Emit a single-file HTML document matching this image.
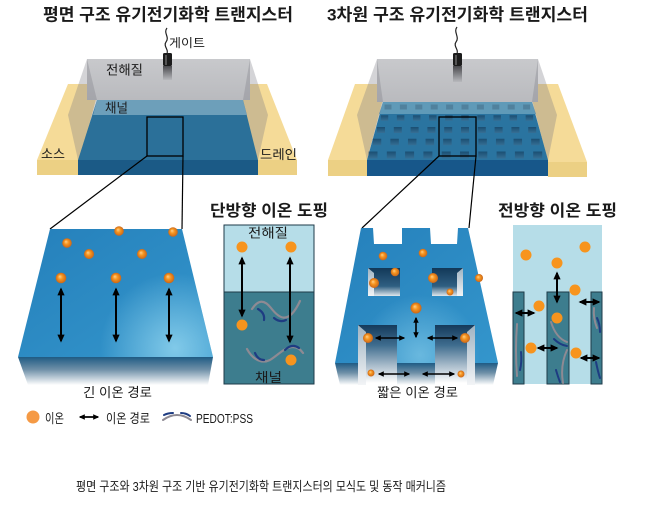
<!DOCTYPE html>
<html><head><meta charset="utf-8">
<style>
html,body{margin:0;padding:0;background:#fff;}
svg{display:block;}
text{font-family:"Liberation Sans","Noto Sans CJK KR",sans-serif;fill:#1a1a1a;}
.b{font-weight:bold;}
</style></head><body>
<svg width="650" height="510" viewBox="0 0 650 510" xmlns="http://www.w3.org/2000/svg">
<defs>
 <radialGradient id="ion" cx="0.5" cy="0.5" r="0.5" fx="0.38" fy="0.35">
  <stop offset="0" stop-color="#ffd08a"/>
  <stop offset="0.45" stop-color="#f7961f"/>
  <stop offset="1" stop-color="#c9661a"/>
 </radialGradient>
 <linearGradient id="top1" x1="0" y1="0" x2="1" y2="1">
  <stop offset="0" stop-color="#2580bb"/>
  <stop offset="1" stop-color="#3496cc"/>
 </linearGradient>
 <radialGradient id="hl1" cx="175" cy="348" r="75" gradientUnits="userSpaceOnUse">
  <stop offset="0" stop-color="#8fd3ee" stop-opacity="0.85"/>
  <stop offset="1" stop-color="#8fd3ee" stop-opacity="0"/>
 </radialGradient>
 <radialGradient id="hl2" cx="420" cy="355" r="60" gradientUnits="userSpaceOnUse">
  <stop offset="0" stop-color="#8fd3ee" stop-opacity="0.6"/>
  <stop offset="1" stop-color="#8fd3ee" stop-opacity="0"/>
 </radialGradient>
 <linearGradient id="front" x1="0" y1="0" x2="0" y2="1">
  <stop offset="0" stop-color="#1f5b84"/>
  <stop offset="0.45" stop-color="#6f90a8"/>
  <stop offset="1" stop-color="#ffffff"/>
 </linearGradient>
 <linearGradient id="wall" x1="0" y1="0" x2="0" y2="1">
  <stop offset="0" stop-color="#153a5b"/>
  <stop offset="0.35" stop-color="#3f6d8f"/>
  <stop offset="0.7" stop-color="#a9bccb"/>
  <stop offset="1" stop-color="#ffffff"/>
 </linearGradient>
 <linearGradient id="hole" x1="0" y1="0" x2="0" y2="1">
  <stop offset="0" stop-color="#123858"/>
  <stop offset="0.65" stop-color="#2f5f82"/>
  <stop offset="1" stop-color="#dfe7ec"/>
 </linearGradient>
 <linearGradient id="side" x1="0" y1="0" x2="0" y2="1">
  <stop offset="0" stop-color="#9fb3c2"/>
  <stop offset="1" stop-color="#f2f4f6"/>
 </linearGradient>
 <linearGradient id="back" x1="0" y1="0" x2="0" y2="1">
  <stop offset="0" stop-color="#c8c9cc"/>
  <stop offset="1" stop-color="#b9babe"/>
 </linearGradient>
 <linearGradient id="refl" x1="0" y1="0" x2="0" y2="1">
  <stop offset="0" stop-color="#4a4a4e"/>
  <stop offset="1" stop-color="#b8b9bd"/>
 </linearGradient>
 <linearGradient id="hg" x1="0" y1="0" x2="0" y2="1">
  <stop offset="0" stop-color="#143f60"/>
  <stop offset="1" stop-color="#3a6d90"/>
 </linearGradient>
 <marker id="a1" viewBox="0 0 10 10" refX="8" refY="5" markerWidth="8" markerHeight="8" markerUnits="userSpaceOnUse" orient="auto-start-reverse"><path d="M0,0.5 L10,5 L0,9.5z" fill="#000"/></marker>
 <marker id="a2" viewBox="0 0 10 10" refX="8" refY="5" markerWidth="6" markerHeight="6" markerUnits="userSpaceOnUse" orient="auto-start-reverse"><path d="M0,0.5 L10,5 L0,9.5z" fill="#000"/></marker>
</defs>

<!-- ===== Titles ===== -->
<text class="b" x="43" y="20.5" font-size="17" textLength="250" lengthAdjust="spacingAndGlyphs">평면 구조 유기전기화학 트랜지스터</text>
<text class="b" x="327" y="20.5" font-size="17" textLength="261" lengthAdjust="spacingAndGlyphs">3차원 구조 유기전기화학 트랜지스터</text>

<!-- ===== Left device ===== -->
<polygon points="68,84 100,84 80,160 37,160" fill="#f5db98"/>
<rect x="37" y="160" width="41" height="15" fill="#ecd084"/>
<polygon points="238,84 267,84 297,160 256,160" fill="#f5db98"/>
<rect x="258" y="160" width="39" height="15" fill="#ecd084"/>
<polygon points="97,100 243,100 258,160 78,160" fill="#2b7099"/>
<polygon points="97,100 243,100 247,115 93,115" fill="#6d9fba"/>
<rect x="78" y="160" width="180" height="15" fill="#1b5a86"/>
<rect x="87" y="59" width="163" height="41" fill="url(#back)"/>
<polygon points="87,59 97,100 78,160 68,115" fill="#787a82" fill-opacity="0.32"/>
<polygon points="250,59 268,115 258,160 243,100" fill="#787a82" fill-opacity="0.32"/>
<!-- gate -->
<path d="M167,28 C163,33 170,37 166,42 C163,46 169,50 167,53" stroke="#222" stroke-width="1.2" fill="none"/>
<rect x="163" y="66" width="9" height="14" fill="url(#refl)"/>
<rect x="163" y="53" width="9" height="13" rx="1.5" fill="#1c1c1c"/>
<rect x="165" y="55" width="2" height="10" fill="#555"/>
<!-- zoom box -->
<rect x="147" y="117" width="36" height="39" fill="none" stroke="#000" stroke-width="1.3"/>
<line x1="147" y1="156" x2="50" y2="229" stroke="#000" stroke-width="1.2"/>
<line x1="183" y1="156" x2="182" y2="229" stroke="#000" stroke-width="1.2"/>
<!-- labels -->
<text x="169" y="47" font-size="12" textLength="36" lengthAdjust="spacingAndGlyphs">게이트</text>
<text x="106" y="74.5" font-size="13" textLength="37" lengthAdjust="spacingAndGlyphs">전해질</text>
<text x="105" y="112.5" font-size="13" textLength="23" lengthAdjust="spacingAndGlyphs">채널</text>
<text x="41" y="158.5" font-size="13" textLength="24" lengthAdjust="spacingAndGlyphs">소스</text>
<text x="260" y="159" font-size="13" textLength="37" lengthAdjust="spacingAndGlyphs">드레인</text>

<!-- ===== Right device ===== -->
<polygon points="355,84 387,84 367,160 328,160" fill="#f5db98"/>
<rect x="328" y="160" width="39" height="16" fill="#ecd084"/>
<polygon points="528,84 558,84 587,162 548,162" fill="#f5db98"/>
<rect x="548" y="162" width="39" height="15" fill="#ecd084"/>
<polygon points="383,102 532,102 548,160 367,160" fill="#2a74a0"/>
<polygon points="383,102 532,102 536,114 379,114" fill="#5f9ab8"/>
<rect x="367" y="160" width="181" height="16" fill="#17578a"/>
<g fill="url(#hg)" fill-opacity="0.72">
 <g fill="#4c7a96" fill-opacity="0.8">
 <rect x="384.5" y="104.5" width="7" height="5"/><rect x="399.9" y="104.5" width="7" height="5"/><rect x="415.3" y="104.5" width="7" height="5"/><rect x="430.7" y="104.5" width="7" height="5"/><rect x="446.1" y="104.5" width="7" height="5"/><rect x="461.5" y="104.5" width="7" height="5"/><rect x="476.9" y="104.5" width="7" height="5"/><rect x="492.3" y="104.5" width="7" height="5"/><rect x="507.7" y="104.5" width="7" height="5"/><rect x="523.1" y="104.5" width="7" height="5"/>
 </g>
 <rect x="380.75" y="115.25" width="7.5" height="5.5"/><rect x="396.85" y="115.25" width="7.5" height="5.5"/><rect x="412.95" y="115.25" width="7.5" height="5.5"/><rect x="429.05" y="115.25" width="7.5" height="5.5"/><rect x="445.15" y="115.25" width="7.5" height="5.5"/><rect x="461.25" y="115.25" width="7.5" height="5.5"/><rect x="477.35" y="115.25" width="7.5" height="5.5"/><rect x="493.45" y="115.25" width="7.5" height="5.5"/><rect x="509.55" y="115.25" width="7.5" height="5.5"/><rect x="525.65" y="115.25" width="7.5" height="5.5"/>
 <rect x="377" y="127" width="8" height="6"/><rect x="393.8" y="127" width="8" height="6"/><rect x="410.6" y="127" width="8" height="6"/><rect x="427.4" y="127" width="8" height="6"/><rect x="444.2" y="127" width="8" height="6"/><rect x="461" y="127" width="8" height="6"/><rect x="477.8" y="127" width="8" height="6"/><rect x="494.6" y="127" width="8" height="6"/><rect x="511.4" y="127" width="8" height="6"/><rect x="528.2" y="127" width="8" height="6"/>
 <rect x="372.75" y="138.75" width="8.5" height="6.5"/><rect x="390.35" y="138.75" width="8.5" height="6.5"/><rect x="407.95" y="138.75" width="8.5" height="6.5"/><rect x="425.55" y="138.75" width="8.5" height="6.5"/><rect x="443.15" y="138.75" width="8.5" height="6.5"/><rect x="460.75" y="138.75" width="8.5" height="6.5"/><rect x="478.35" y="138.75" width="8.5" height="6.5"/><rect x="495.95" y="138.75" width="8.5" height="6.5"/><rect x="513.55" y="138.75" width="8.5" height="6.5"/><rect x="531.15" y="138.75" width="8.5" height="6.5"/>
 <rect x="368.5" y="151.5" width="9" height="7"/><rect x="386.8" y="151.5" width="9" height="7"/><rect x="405.1" y="151.5" width="9" height="7"/><rect x="423.4" y="151.5" width="9" height="7"/><rect x="441.7" y="151.5" width="9" height="7"/><rect x="460" y="151.5" width="9" height="7"/><rect x="478.3" y="151.5" width="9" height="7"/><rect x="496.6" y="151.5" width="9" height="7"/><rect x="514.9" y="151.5" width="9" height="7"/><rect x="533.2" y="151.5" width="9" height="7"/>
</g>
<rect x="377" y="59" width="161" height="43" fill="url(#back)"/>
<polygon points="377,59 383,102 367,160 357,115" fill="#787a82" fill-opacity="0.32"/>
<polygon points="538,59 557,115 548,160 532,102" fill="#787a82" fill-opacity="0.32"/>
<path d="M457,27 C453,32 460,37 456,42 C453,46 459,50 457,53" stroke="#222" stroke-width="1.2" fill="none"/>
<rect x="453" y="66" width="9" height="16" fill="url(#refl)"/>
<rect x="453" y="53" width="9" height="13" rx="1.5" fill="#1c1c1c"/>
<rect x="455" y="55" width="2" height="10" fill="#555"/>
<rect x="439" y="117" width="37" height="39" fill="none" stroke="#000" stroke-width="1.3"/>
<line x1="439" y1="156" x2="362" y2="228" stroke="#000" stroke-width="1.2"/>
<line x1="476" y1="156" x2="469" y2="228" stroke="#000" stroke-width="1.2"/>

<!-- ===== Block 1 ===== -->
<polygon points="18,357 213,357 208,385 28,385" fill="url(#front)"/>
<polygon points="50,229 182,229 213,357 18,357" fill="url(#top1)"/>
<polygon points="50,229 182,229 213,357 18,357" fill="url(#hl1)"/>
<g fill="url(#ion)">
 <circle cx="67" cy="243" r="4.8"/><circle cx="119" cy="231" r="4.8"/><circle cx="173" cy="232" r="4.8"/>
 <circle cx="89" cy="254" r="5"/><circle cx="142" cy="254" r="5"/>
 <circle cx="61" cy="278" r="5.3"/><circle cx="116" cy="278" r="5.3"/><circle cx="169" cy="278" r="5.3"/>
</g>
<g stroke="#000" stroke-width="2" marker-start="url(#a1)" marker-end="url(#a1)">
 <line x1="61" y1="289" x2="61" y2="341"/>
 <line x1="116" y1="289" x2="116" y2="341"/>
 <line x1="169" y1="289" x2="169" y2="341"/>
</g>
<text x="83" y="397" font-size="13" textLength="69" lengthAdjust="spacingAndGlyphs">긴 이온 경로</text>

<!-- ===== Unidirectional panel ===== -->
<text class="b" x="210" y="216" font-size="16" textLength="118" lengthAdjust="spacingAndGlyphs">단방향 이온 도핑</text>
<rect x="224" y="225" width="90" height="67" fill="#b6dde8"/>
<rect x="224" y="292" width="90" height="92" fill="#3d7d8e"/>
<rect x="224" y="225" width="90" height="159" fill="none" stroke="#1e3a48" stroke-width="1"/>
<line x1="224" y1="292" x2="314" y2="292" stroke="#1e3a48" stroke-width="1"/>
<text x="248" y="237.5" font-size="13" textLength="40" lengthAdjust="spacingAndGlyphs">전해질</text>
<text x="255" y="382" font-size="13" textLength="27" lengthAdjust="spacingAndGlyphs">채널</text>
<g fill="none" stroke-width="2.2" stroke-linecap="round">
 <path d="M252,309 C258,300 264,299 271,308 S288,327 300,301" stroke="#8e8a93"/>
 <path d="M258,309 Q265,313 264,320" stroke="#1e3c82"/>
 <path d="M274,318 Q280,323 286,320" stroke="#1e3c82"/>
 <path d="M247,349 C253,360 262,364 270,360 C278,355 285,347 293,347 C298,347 301,350 303,353" stroke="#8e8a93"/>
 <path d="M255,353 Q258,360 264,360" stroke="#1e3c82"/>
 <path d="M285,350 Q292,343 299,348" stroke="#1e3c82"/>
</g>
<g fill="#f7941d">
 <circle cx="242" cy="247" r="5.5"/><circle cx="291" cy="247" r="5.5"/>
 <circle cx="242" cy="325" r="5.5"/><circle cx="291" cy="360" r="5.5"/>
</g>
<g stroke="#000" stroke-width="2" marker-start="url(#a1)" marker-end="url(#a1)">
 <line x1="242" y1="258" x2="242" y2="316"/>
 <line x1="290" y1="258" x2="290" y2="342"/>
</g>

<!-- ===== Block 2 ===== -->
<polygon points="335,363 358,363 358,385 340,385" fill="url(#front)"/>
<rect x="397" y="363" width="38" height="22" fill="url(#front)"/>
<polygon points="475,363 498,363 493,385 475,385" fill="url(#front)"/>
<rect x="358" y="325" width="39" height="58" fill="url(#wall)"/>
<polygon points="358,325 366,332 366,385 358,385" fill="url(#side)"/>
<rect x="435" y="325" width="40" height="58" fill="url(#wall)"/>
<polygon points="475,325 467,332 467,385 475,385" fill="url(#side)"/>
<path d="M361,228 L373,228 L374,244 L402,244 L402,228 L430,228 L431,244 L457,244 L458,228 L468,228 L498,363 L475,363 L475,325 L435,325 L435,363 L397,363 L397,325 L358,325 L358,363 L335,363 Z" fill="url(#top1)"/>
<path d="M361,228 L373,228 L374,244 L402,244 L402,228 L430,228 L431,244 L457,244 L458,228 L468,228 L498,363 L475,363 L475,325 L435,325 L435,363 L397,363 L397,325 L358,325 L358,363 L335,363 Z" fill="url(#hl2)"/>
<rect x="368" y="268" width="32" height="28" fill="url(#hole)"/>
<polygon points="368,268 374,273 374,296 368,296" fill="url(#side)"/>
<rect x="432" y="268" width="31" height="28" fill="url(#hole)"/>
<polygon points="463,268 457,273 457,296 463,296" fill="url(#side)"/>
<g fill="url(#ion)">
 <circle cx="383" cy="256" r="4.3"/><circle cx="423" cy="253" r="4.3"/>
 <circle cx="395" cy="272" r="4.3"/><circle cx="374" cy="283" r="5"/>
 <circle cx="433" cy="278" r="5"/><circle cx="450" cy="292" r="3.5"/>
 <circle cx="479" cy="278" r="4"/><circle cx="416" cy="308" r="5.5"/>
 <circle cx="368" cy="338" r="5"/><circle cx="465" cy="338" r="5"/>
 <circle cx="371" cy="373" r="3.5"/><circle cx="461" cy="374" r="3.5"/>
</g>
<g stroke="#000" stroke-width="1.6" marker-start="url(#a2)" marker-end="url(#a2)">
 <line x1="416" y1="318" x2="416" y2="337"/>
 <line x1="376" y1="338" x2="404" y2="338"/>
 <line x1="428" y1="338" x2="457" y2="338"/>
 <line x1="379" y1="374" x2="409" y2="374"/>
 <line x1="423" y1="374" x2="454" y2="374"/>
</g>
<text x="377" y="397" font-size="13" textLength="81" lengthAdjust="spacingAndGlyphs">짧은 이온 경로</text>

<!-- ===== Omnidirectional panel ===== -->
<text class="b" x="498" y="216" font-size="16" textLength="119" lengthAdjust="spacingAndGlyphs">전방향 이온 도핑</text>
<rect x="513" y="225" width="89" height="159" fill="#b6dde8"/>
<g fill="#3d7d8e" stroke="#1e3a48" stroke-width="1">
 <rect x="513" y="292" width="11" height="92"/>
 <rect x="547" y="292" width="22" height="92"/>
 <rect x="591" y="292" width="11" height="92"/>
</g>
<g fill="none" stroke-width="2" stroke-linecap="round">
 <path d="M517,324 Q515,350 517,376" stroke="#8e8a93"/>
 <path d="M521,352 Q522,362 520,370" stroke="#1e3c82"/>
 <path d="M551,322 Q556,338 567,342" stroke="#8e8a93"/>
 <path d="M554,339 Q560,345 567,346" stroke="#1e3c82"/>
 <path d="M567,350 Q560,365 563,383" stroke="#8e8a93"/>
 <path d="M556,370 Q558,377 560,382" stroke="#1e3c82"/>
 <path d="M594,308 Q593,318 597,328" stroke="#8e8a93"/>
 <path d="M597,318 Q600,324 600,332" stroke="#1e3c82"/>
 <path d="M596,362 Q598,372 600,378" stroke="#1e3c82"/>
</g>
<g fill="#f7941d">
 <circle cx="526" cy="255" r="5.5"/><circle cx="557" cy="263" r="5.5"/>
 <circle cx="585" cy="247" r="5.5"/><circle cx="575" cy="290" r="5.5"/>
 <circle cx="539" cy="306" r="5.5"/><circle cx="557" cy="318" r="5.5"/>
 <circle cx="531" cy="348" r="5.5"/><circle cx="576" cy="353" r="5.5"/>
</g>
<g stroke="#000" stroke-width="2" marker-start="url(#a1)" marker-end="url(#a1)">
 <line x1="557" y1="273" x2="557" y2="302"/>
 <line x1="516" y1="313" x2="534" y2="313"/>
 <line x1="538" y1="348" x2="557" y2="348"/>
 <line x1="580" y1="302" x2="599" y2="302"/>
 <line x1="581" y1="358" x2="599" y2="358"/>
</g>

<!-- ===== Legend ===== -->
<circle cx="33" cy="417" r="6.5" fill="#f59a45"/>
<text x="45" y="423" font-size="13" textLength="19" lengthAdjust="spacingAndGlyphs">이온</text>
<line x1="80" y1="417" x2="98" y2="417" stroke="#000" stroke-width="1.8" marker-start="url(#a2)" marker-end="url(#a2)"/>
<text x="106" y="423" font-size="13" textLength="44" lengthAdjust="spacingAndGlyphs">이온 경로</text>
<g fill="none" stroke-width="2" stroke-linecap="round">
 <path d="M163,420 Q177,410 191,420" stroke="#8e8a93"/>
 <path d="M164,415 Q168,413 173,413" stroke="#1e3c82"/>
 <path d="M181,413 Q186,413 190,416" stroke="#1e3c82"/>
</g>
<text x="196" y="423" font-size="13" textLength="57" lengthAdjust="spacingAndGlyphs">PEDOT:PSS</text>

<!-- ===== Caption ===== -->
<text x="76" y="491" font-size="13" fill="#222" textLength="370" lengthAdjust="spacingAndGlyphs">평면 구조와 3차원 구조 기반 유기전기화학 트랜지스터의 모식도 및 동작 매커니즘</text>
</svg>
</body></html>
